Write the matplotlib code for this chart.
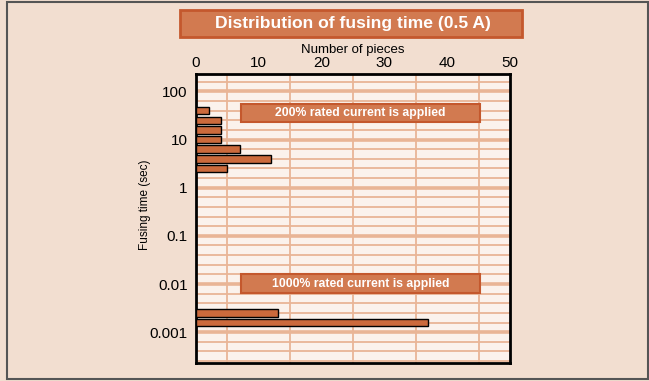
import numpy as np
import matplotlib.pyplot as plt
from matplotlib.patches import Rectangle
from matplotlib.ticker import FixedLocator, NullFormatter

plt.rcParams['font.family'] = ['Liberation Sans', 'DejaVu Sans']

# fusing-time bins (log10 of seconds) and number of pieces in each bin
bins_200 = [1.6, 1.4, 1.2, 1.0, 0.8, 0.6, 0.4]
counts_200 = [2, 4, 4, 4, 7, 12, 5]
bins_1000 = [-2.6, -2.8]
counts_1000 = [13, 37]

y_ticks = [100, 10, 1, 0.1, 0.01, 0.001]
y_labels = ["100", "10", "1", "0.1", "0.01", "0.001"]
x_ticks = [0, 10, 20, 30, 40, 50]

bg = "#F2DED0"
face = "#FBF2EC"
grid_c = "#E9B596"
bar_c = "#CC6A3C"
box_c = "#D27A50"
box_edge = "#C4582D"

W, H = 649, 381
fig = plt.figure(figsize=(W / 100, H / 100), dpi=100, facecolor=bg)

# outer frame
fig.patches.append(Rectangle((7 / W, 1 - 379 / H), 641 / W, 377 / H,
                             transform=fig.transFigure, fill=False,
                             edgecolor="#555555", lw=1.5))

ax = fig.add_axes([196 / W, 1 - 363 / H, 314 / W, 289 / H])
ax.set_facecolor(face)
ax.set_yscale("log")
ax.set_xlim(0, 50)
ax.set_ylim(10 ** -3.64, 10 ** 2.36)

# grid: every 5 pieces, five lines per decade
ax.set_xticks(x_ticks)
ax.xaxis.set_minor_locator(FixedLocator(np.arange(0, 51, 5)))
ax.yaxis.set_major_locator(FixedLocator(y_ticks))
minor = [10 ** (k + j / 5) for k in range(-4, 3) for j in range(1, 5)]
ax.yaxis.set_minor_locator(FixedLocator(minor))
ax.yaxis.set_minor_formatter(NullFormatter())
ax.set_yticklabels(y_labels)
ax.grid(True, which="major", axis="y", color=grid_c, lw=2.6)
ax.grid(True, which="minor", axis="y", color=grid_c, lw=1.3)
ax.grid(True, which="minor", axis="x", color=grid_c, lw=1.3)
ax.set_axisbelow(True)

ax.xaxis.tick_top()
ax.xaxis.set_label_position("top")
ax.tick_params(which="both", length=0, labelsize=11, pad=3)
ax.tick_params(axis="y", pad=6)
ax.set_xlabel("Number of pieces", fontsize=9.5, labelpad=2)
ax.set_ylabel("Fusing time (sec)", fontsize=8.5, va="center")
ax.yaxis.set_label_coords(-51 / 314, 0.547)

for s in ax.spines.values():
    s.set_linewidth(2)
    s.set_color("black")

# horizontal bars, each 0.155 decade tall, centred on its bin
half = 0.155 / 2
for bins, counts in [(bins_200, counts_200), (bins_1000, counts_1000)]:
    lo = 10 ** (np.array(bins) - half)
    hi = 10 ** (np.array(bins) + half)
    ax.barh(lo, counts, height=hi - lo, align="edge", color=bar_c,
            edgecolor="black", lw=1, zorder=3)

# condition labels
for text, y0, y1 in [("200% rated current is applied", 1.363, 1.73),
                     ("1000% rated current is applied", -2.185, -1.797)]:
    ax.add_patch(Rectangle((7.2, 10 ** y0), 38, 10 ** y1 - 10 ** y0,
                           facecolor=box_c, edgecolor=box_edge, lw=1.5,
                           zorder=4))
    ax.text(26.2, 10 ** ((y0 + y1) / 2), text, ha="center", va="center",
            color="white", fontsize=8.8, fontweight="bold", zorder=5)

# title banner
fig.patches.append(Rectangle((180 / W, 1 - 37 / H), 342 / W, 27 / H,
                             transform=fig.transFigure, facecolor=box_c,
                             edgecolor=box_edge, lw=2))
fig.text(353 / W, 1 - 23.5 / H, "Distribution of fusing time (0.5 A)",
         ha="center", va="center", color="white", fontsize=12.6,
         fontweight="bold")

fig.savefig("out.png", dpi=100, facecolor=bg)
